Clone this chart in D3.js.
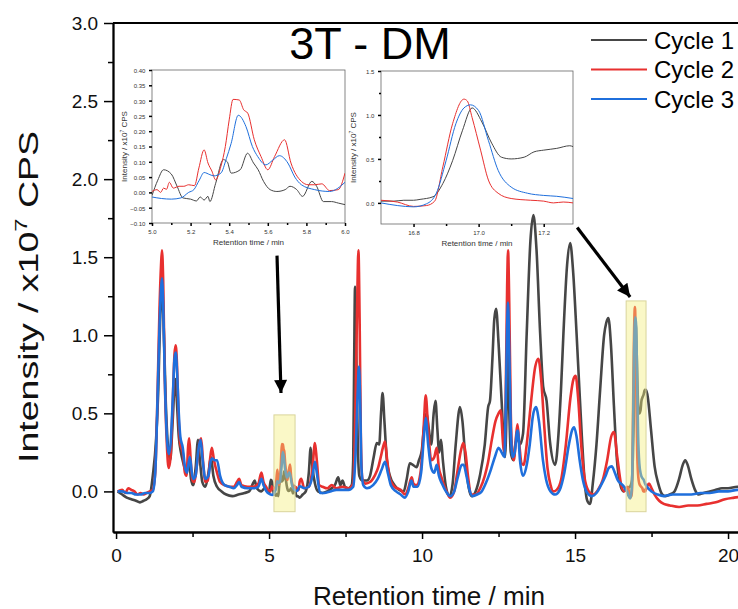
<!DOCTYPE html>
<html>
<head>
<meta charset="utf-8">
<script src="https://cdn.jsdelivr.net/npm/d3@7"></script>
<style>
  body { margin: 0; background: #fff; }
  svg { display: block; font-family: "Liberation Sans", Arial, sans-serif; }
</style>
</head>
<body>
<div id="chart"></div>
<script>
// series names and colours
const seriesNames = ["Cycle 1", "Cycle 2", "Cycle 3"];
const seriesColors = ["#464646", "#e8302f", "#1f6fdc"];

// main chromatogram, [time (min), intensity (x10^7 CPS)]
const cycle1Early = [[0.05,0.0],[0.2,-0.02],[0.35,-0.04],[0.5,-0.05],[0.65,-0.06],[0.78,-0.07],[0.9,-0.06],[1.0,-0.05],[1.1,-0.03],[1.2,0.1],[1.31,0.34],[1.38,0.65],[1.44,1.1],[1.5,1.3],[1.55,1.1],[1.62,0.6],[1.7,0.28],[1.77,0.2],[1.85,0.45],[1.93,0.72],[1.98,0.6],[2.05,0.35],[2.12,0.25],[2.2,0.18],[2.3,0.12],[2.38,0.2],[2.45,0.08],[2.52,0.04],[2.6,0.15],[2.68,0.33],[2.74,0.2],[2.82,0.06],[2.92,0.03],[3.02,0.12],[3.1,0.22],[3.18,0.1],[3.3,0.03],[3.45,0.0],[3.6,-0.02],[3.8,-0.03],[4.0,-0.02],[4.2,-0.01],[4.35,0.0],[4.45,0.04],[4.53,0.07],[4.6,0.02],[4.75,0.0],[4.85,0.02],[4.95,0.0]];
const cycle1Mid = [[6.1,-0.02],[6.2,0.0],[6.3,0.12],[6.36,0.28],[6.42,0.15],[6.5,0.05],[6.6,0.0],[6.75,-0.01],[6.9,0.0],[7.05,0.02],[7.15,0.04],[7.26,0.09],[7.33,0.04],[7.4,0.07],[7.48,0.03],[7.6,0.02],[7.7,0.04],[7.75,0.2],[7.78,0.8],[7.81,1.31],[7.85,0.9],[7.9,0.3],[7.95,0.1],[8.05,0.07],[8.2,0.07],[8.3,0.1],[8.42,0.22],[8.52,0.31],[8.6,0.3],[8.66,0.5],[8.71,0.63],[8.77,0.45],[8.85,0.2],[8.95,0.1],[9.1,0.04],[9.25,0.01],[9.4,0.0],[9.5,0.08],[9.6,0.18],[9.7,0.17],[9.82,0.155],[9.9,0.2],[9.99,0.26],[10.07,0.42],[10.15,0.5],[10.22,0.4],[10.3,0.3],[10.38,0.5],[10.44,0.58],[10.5,0.4],[10.56,0.25],[10.62,0.33],[10.68,0.2],[10.78,0.03],[10.9,-0.03],[11.0,0.05],[11.1,0.3],[11.24,0.54],[11.32,0.45],[11.42,0.2],[11.52,0.03],[11.62,-0.03],[11.75,0.0],[11.9,0.11],[12.05,0.3],[12.16,0.54],[12.22,0.58],[12.3,0.85],[12.36,1.1],[12.42,1.17],[12.5,0.95],[12.6,0.58],[12.71,0.22],[12.76,0.5],[12.8,1.0],[12.84,0.6],[12.9,0.25],[12.98,0.2],[13.05,0.3],[13.12,0.35],[13.2,0.3],[13.3,0.37],[13.42,1.01],[13.54,1.6],[13.64,1.77],[13.74,1.55],[13.86,1.01],[13.96,0.67],[14.07,0.58],[14.18,0.32],[14.35,0.17],[14.46,0.37],[14.54,0.65],[14.62,1.01],[14.74,1.45],[14.84,1.59],[14.94,1.4],[15.05,1.01],[15.22,0.36],[15.32,0.05],[15.4,-0.06],[15.49,-0.08],[15.58,0.05],[15.7,0.3],[15.82,0.65],[15.95,1.0],[16.02,1.08],[16.09,1.11],[16.17,0.95],[16.27,0.55],[16.37,0.2],[16.47,0.05],[16.58,0.0],[16.65,0.01]];
const cycle1Late = [[17.32,0.65],[17.38,0.6],[17.48,0.4],[17.6,0.16],[17.72,0.05],[17.85,-0.02],[17.95,-0.03],[18.1,-0.02],[18.25,0.0],[18.4,0.08],[18.52,0.17],[18.6,0.2],[18.68,0.17],[18.8,0.08],[18.92,0.01],[19.03,-0.02],[19.2,-0.01],[19.4,0.0],[19.6,0.01],[19.8,0.02],[20.0,0.02],[20.3,0.03],[20.6,0.03]];

const cycle2Early = [[0.05,0.0],[0.2,0.01],[0.3,-0.01],[0.4,0.02],[0.5,0.01],[0.6,0.0],[0.7,-0.02],[0.8,-0.01],[0.9,-0.02],[1.0,-0.01],[1.1,0.0],[1.2,0.01],[1.28,0.12],[1.37,0.75],[1.42,1.17],[1.47,1.45],[1.5,1.545],[1.54,1.35],[1.59,0.75],[1.66,0.3],[1.72,0.15],[1.78,0.22],[1.85,0.55],[1.91,0.88],[1.95,0.935],[1.99,0.82],[2.04,0.5],[2.1,0.3],[2.18,0.25],[2.25,0.12],[2.3,0.1],[2.36,0.3],[2.39,0.34],[2.44,0.2],[2.5,0.07],[2.56,0.06],[2.65,0.18],[2.72,0.3],[2.78,0.34],[2.84,0.2],[2.92,0.06],[3.0,0.07],[3.08,0.22],[3.13,0.28],[3.2,0.2],[3.3,0.12],[3.4,0.06],[3.55,0.04],[3.7,0.03],[3.85,0.03],[3.95,0.06],[4.02,0.08],[4.1,0.04],[4.3,0.03],[4.5,0.03],[4.65,0.05],[4.75,0.12],[4.82,0.06],[4.9,0.03]];
const cycle2Mid = [[6.05,0.08],[6.15,0.02],[6.3,0.03],[6.42,0.15],[6.5,0.31],[6.56,0.2],[6.64,0.04],[6.75,0.03],[6.9,0.02],[7.05,0.04],[7.2,0.02],[7.4,0.03],[7.6,0.02],[7.75,0.05],[7.82,0.5],[7.88,1.2],[7.92,1.545],[7.96,1.1],[8.0,0.35],[8.05,0.08],[8.15,0.05],[8.3,0.06],[8.45,0.1],[8.57,0.155],[8.65,0.22],[8.72,0.28],[8.79,0.32],[8.86,0.2],[8.95,0.08],[9.1,0.03],[9.3,0.01],[9.45,-0.02],[9.55,0.02],[9.66,0.09],[9.72,0.05],[9.82,0.04],[9.95,0.12],[10.05,0.4],[10.12,0.615],[10.2,0.4],[10.3,0.2],[10.4,0.22],[10.48,0.28],[10.55,0.15],[10.62,0.1],[10.7,0.05],[10.8,0.0],[10.92,-0.04],[11.05,0.0],[11.15,0.12],[11.28,0.27],[11.35,0.31],[11.42,0.25],[11.5,0.1],[11.62,-0.02],[11.75,-0.02],[11.9,0.02],[12.05,0.1],[12.15,0.18],[12.28,0.33],[12.4,0.45],[12.5,0.5],[12.57,0.52],[12.65,0.3],[12.69,0.25],[12.74,0.7],[12.78,1.3],[12.81,1.545],[12.85,1.2],[12.9,0.5],[12.95,0.25],[13.0,0.2],[13.07,0.35],[13.12,0.43],[13.18,0.3],[13.25,0.18],[13.32,0.17],[13.42,0.3],[13.55,0.55],[13.7,0.8],[13.8,0.85],[13.9,0.7],[14.0,0.4],[14.1,0.15],[14.2,0.04],[14.29,0.0],[14.4,0.01],[14.55,0.08],[14.7,0.3],[14.85,0.6],[14.95,0.72],[15.02,0.74],[15.1,0.6],[15.2,0.3],[15.3,0.1],[15.45,0.0],[15.6,-0.02],[15.75,0.01],[15.9,0.07],[16.05,0.2],[16.18,0.35],[16.27,0.38],[16.38,0.22],[16.5,0.05],[16.6,0.0]];
const cycle2Late = [[17.35,0.03],[17.42,0.05],[17.5,0.02],[17.6,-0.02],[17.75,-0.06],[17.9,-0.08],[18.1,-0.09],[18.4,-0.1],[18.7,-0.09],[19.0,-0.09],[19.3,-0.08],[19.6,-0.07],[19.9,-0.05],[20.2,-0.04],[20.6,-0.03]];

const cycle3Early = [[0.05,0.0],[0.2,0.0],[0.35,-0.01],[0.5,-0.01],[0.65,-0.02],[0.8,-0.02],[0.95,-0.01],[1.1,-0.01],[1.2,0.0],[1.28,0.12],[1.37,0.7],[1.42,1.05],[1.47,1.3],[1.5,1.365],[1.54,1.2],[1.59,0.75],[1.66,0.35],[1.72,0.24],[1.78,0.3],[1.85,0.58],[1.91,0.85],[1.95,0.89],[1.99,0.78],[2.05,0.5],[2.1,0.35],[2.18,0.28],[2.25,0.16],[2.32,0.12],[2.41,0.22],[2.47,0.13],[2.52,0.08],[2.6,0.1],[2.68,0.25],[2.76,0.33],[2.83,0.2],[2.92,0.08],[3.02,0.1],[3.1,0.2],[3.15,0.21],[3.22,0.2],[3.3,0.2],[3.4,0.1],[3.55,0.04],[3.7,0.03],[3.85,0.02],[3.95,0.04],[4.02,0.06],[4.1,0.03],[4.3,0.02],[4.5,0.02],[4.65,0.03],[4.75,0.08],[4.82,0.04],[4.92,0.0]];
const cycle3Mid = [[6.05,0.03],[6.15,0.02],[6.3,0.03],[6.42,0.1],[6.5,0.19],[6.56,0.12],[6.67,-0.01],[6.8,-0.01],[7.0,0.0],[7.2,0.01],[7.4,0.01],[7.6,0.01],[7.75,0.03],[7.83,0.25],[7.89,0.6],[7.94,0.8],[7.98,0.55],[8.02,0.15],[8.08,0.04],[8.2,0.02],[8.4,0.04],[8.55,0.08],[8.68,0.14],[8.79,0.19],[8.88,0.12],[8.98,0.04],[9.15,0.0],[9.3,-0.02],[9.44,-0.04],[9.55,0.0],[9.65,0.07],[9.72,0.03],[9.85,0.03],[9.97,0.12],[10.06,0.35],[10.12,0.47],[10.2,0.3],[10.3,0.15],[10.4,0.12],[10.48,0.17],[10.55,0.1],[10.65,0.05],[10.78,0.0],[10.92,-0.03],[11.05,0.0],[11.18,0.1],[11.3,0.17],[11.36,0.17],[11.45,0.1],[11.55,0.01],[11.65,-0.03],[11.8,-0.02],[11.95,0.0],[12.1,0.06],[12.25,0.14],[12.38,0.22],[12.5,0.28],[12.6,0.25],[12.69,0.22],[12.74,0.6],[12.78,1.05],[12.81,1.21],[12.85,0.9],[12.9,0.4],[12.96,0.22],[13.03,0.25],[13.1,0.38],[13.13,0.39],[13.2,0.2],[13.3,0.1],[13.4,0.15],[13.52,0.3],[13.62,0.48],[13.72,0.54],[13.82,0.45],[13.95,0.2],[14.05,0.08],[14.2,0.0],[14.35,-0.02],[14.5,0.01],[14.65,0.12],[14.8,0.3],[14.9,0.39],[14.97,0.41],[15.05,0.35],[15.15,0.2],[15.25,0.08],[15.4,-0.01],[15.55,-0.03],[15.7,-0.01],[15.85,0.04],[16.0,0.1],[16.1,0.15],[16.2,0.16],[16.3,0.12],[16.4,0.07],[16.5,0.05],[16.6,0.03],[16.65,0.01]];
const cycle3Late = [[17.35,0.03],[17.5,0.0],[17.7,-0.02],[17.9,-0.03],[18.2,-0.02],[18.5,-0.02],[18.8,-0.02],[19.1,-0.01],[19.4,-0.01],[19.7,0.0],[20.0,0.0],[20.3,0.01],[20.6,0.01]];

// inset 1: 5.0 - 6.0 min
const inset1Cycle1 = [[5.0,-0.01],[5.03,0.04],[5.06,0.074],[5.1,0.06],[5.13,0.02],[5.16,-0.018],[5.2,-0.022],[5.23,-0.028],[5.25,-0.015],[5.27,-0.025],[5.29,-0.013],[5.3,-0.03],[5.33,0.03],[5.37,0.107],[5.39,0.1],[5.41,0.063],[5.457,0.074],[5.495,0.128],[5.526,0.096],[5.55,0.074],[5.578,0.036],[5.612,0.009],[5.647,0.003],[5.69,0.009],[5.715,0.02],[5.75,0.009],[5.78,-0.013],[5.828,0.036],[5.853,0.02],[5.888,-0.03],[5.93,-0.03],[5.966,-0.035],[6.0,-0.04]];
const inset1Cycle2 = [[5.0,0.003],[5.026,0.009],[5.045,0.0],[5.06,0.014],[5.075,0.01],[5.09,0.033],[5.11,0.014],[5.14,0.02],[5.165,0.02],[5.19,0.025],[5.22,0.022],[5.243,0.08],[5.27,0.139],[5.29,0.096],[5.31,0.07],[5.33,0.041],[5.357,0.085],[5.38,0.15],[5.4,0.237],[5.42,0.304],[5.452,0.302],[5.475,0.27],[5.496,0.259],[5.53,0.172],[5.565,0.117],[5.6,0.074],[5.635,0.117],[5.687,0.172],[5.72,0.096],[5.774,0.036],[5.81,0.025],[5.843,0.025],[5.88,0.028],[5.92,0.006],[5.965,0.009],[6.0,0.063]];
const inset1Cycle3 = [[5.0,-0.015],[5.05,-0.02],[5.1,-0.022],[5.15,-0.018],[5.19,0.0],[5.217,0.009],[5.245,0.04],[5.27,0.065],[5.3,0.058],[5.32,0.054],[5.357,0.063],[5.385,0.11],[5.41,0.16],[5.447,0.252],[5.487,0.215],[5.52,0.15],[5.548,0.117],[5.59,0.09],[5.625,0.105],[5.66,0.12],[5.704,0.096],[5.74,0.05],[5.774,0.025],[5.843,0.009],[5.92,0.003],[6.0,0.033]];

// inset 2: 16.7 - 17.3 min
const inset2Cycle1 = [[16.7,0.02],[16.74,0.02],[16.77,0.03],[16.8,0.03],[16.82,0.04],[16.86,0.07],[16.89,0.22],[16.92,0.48],[16.95,0.82],[16.98,1.08],[17.01,0.92],[17.04,0.68],[17.07,0.52],[17.1,0.5],[17.14,0.52],[17.17,0.58],[17.2,0.6],[17.24,0.62],[17.28,0.65],[17.29,0.64]];
const inset2Cycle2 = [[16.7,0.03],[16.75,0.01],[16.8,-0.04],[16.84,-0.03],[16.865,0.02],[16.89,0.41],[16.92,0.9],[16.955,1.18],[16.965,1.16],[16.98,0.97],[17.006,0.6],[17.03,0.26],[17.06,0.11],[17.1,0.05],[17.16,0.03],[17.2,0.02],[17.23,0.0],[17.26,0.01],[17.29,0.0]];
const inset2Cycle3 = [[16.7,0.0],[16.75,-0.03],[16.8,-0.045],[16.84,-0.01],[16.87,0.11],[16.9,0.48],[16.93,0.9],[16.955,1.08],[16.975,1.115],[17.0,1.05],[17.03,0.71],[17.06,0.37],[17.1,0.18],[17.15,0.11],[17.2,0.085],[17.24,0.075],[17.29,0.05]];

// tick values
const xMajor = [0, 5, 10, 15, 20];
const xMinor = [2.5, 7.5, 12.5, 17.5];
const yMajor = [0, 0.5, 1.0, 1.5, 2.0, 2.5, 3.0];
const yMinor = [0.25, 0.75, 1.25, 1.75, 2.25, 2.75];
const inset1XTicks = [5.0, 5.2, 5.4, 5.6, 5.8, 6.0];
const inset1XMinor = [5.1, 5.3, 5.5, 5.7, 5.9];
const inset1YTicks = [-0.10, -0.05, 0.00, 0.05, 0.10, 0.15, 0.20, 0.25, 0.30, 0.35, 0.40];
const inset2XTicks = [16.8, 17.0, 17.2];
const inset2XMinor = [16.9, 17.1];
const inset2YTicks = [0.0, 0.5, 1.0, 1.5];
const inset2YMinor = [0.25, 0.75, 1.25];

// highlighted windows [t0, t1, v0, v1] and arrows [t0, v0, t1, v1]
const boxes = [[5.16, 5.85, -0.13, 0.49], [16.67, 17.32, -0.13, 1.22]];
const arrows = [[5.26, 1.51, 5.39, 0.63], [15.07, 1.69, 16.8, 1.245]];

const mainCycles = [
  cycle1Early.concat(inset1Cycle1, cycle1Mid, inset2Cycle1, cycle1Late),
  cycle2Early.concat(inset1Cycle2, cycle2Mid, inset2Cycle2, cycle2Late),
  cycle3Early.concat(inset1Cycle3, cycle3Mid, inset2Cycle3, cycle3Late)
];

var svg = d3.select("#chart").append("svg")
    .attr("width", 738)
    .attr("height", 609);

var x = d3.scaleLinear().domain([-0.1, 20.6]).range([113, 746.4]);
var y = d3.scaleLinear().domain([-0.26, 3.0]).range([532, 23]);

//arrow head marker
svg.append("defs").append("marker")
    .attr("id", "head")
    .attr("viewBox", "0 0 10 10")
    .attr("refX", 10).attr("refY", 5)
    .attr("markerUnits", "userSpaceOnUse")
    .attr("markerWidth", 20).attr("markerHeight", 13)
    .attr("orient", "auto")
  .append("path")
    .attr("d", "M0,0 L10,5 L0,10 Z")
    .attr("fill", "#000");

//draws one inset panel
function drawInset(xs, ys, xTicks, xMinorTicks, yTicks, yMinorTicks, yFormat, series) {
    var g = svg.append("g");
    var x0 = xs.range()[0], x1 = xs.range()[1];
    var y0 = ys.range()[0], y1 = ys.range()[1];
    g.append("rect")
        .attr("x", x0).attr("y", y1)
        .attr("width", x1 - x0).attr("height", y0 - y1)
        .attr("fill", "#fff")
        .attr("stroke", "#666")
        .attr("stroke-width", 0.8);

    var xa = g.append("g").attr("transform", "translate(0," + y0 + ")")
        .call(d3.axisBottom(xs).tickValues(xTicks).tickSize(3).tickSizeOuter(0).tickFormat(d3.format(".1f")));
    g.append("g").attr("transform", "translate(0," + y0 + ")")
        .call(d3.axisBottom(xs).tickValues(xMinorTicks).tickSize(2).tickSizeOuter(0).tickFormat(""));
    var ya = g.append("g").attr("transform", "translate(" + x0 + ",0)")
        .call(d3.axisLeft(ys).tickValues(yTicks).tickSize(3).tickSizeOuter(0).tickFormat(d3.format(yFormat)));
    g.append("g").attr("transform", "translate(" + x0 + ",0)")
        .call(d3.axisLeft(ys).tickValues(yMinorTicks).tickSize(2).tickSizeOuter(0).tickFormat(""));
    g.selectAll(".domain").remove();
    g.selectAll(".tick line").attr("stroke", "#666").attr("stroke-width", 0.7);
    g.selectAll(".tick text").attr("font-size", 6).attr("fill", "#333")
        .attr("font-family", "'Liberation Sans', Arial, sans-serif");
    xa.selectAll(".tick text").attr("dy", "0.9em");
    ya.selectAll(".tick text").attr("dx", "-0.1em").attr("dy", "0.4em");

    var line = d3.line()
        .x(function(d) { return xs(d[0]); })
        .y(function(d) { return ys(d[1]); })
        .curve(d3.curveMonotoneX);
    var clipId = "clip" + Math.round(x0);
    g.append("clipPath").attr("id", clipId).append("rect")
        .attr("x", x0).attr("y", y1).attr("width", x1 - x0).attr("height", y0 - y1);
    series.forEach(function(s, i) {
        g.append("path")
            .datum(s)
            .attr("clip-path", "url(#" + clipId + ")")
            .attr("fill", "none")
            .attr("stroke", seriesColors[i])
            .attr("stroke-width", 1)
            .attr("d", line);
    });

    var cx = (x0 + x1) / 2, cy = (y0 + y1) / 2;
    g.append("text")
        .attr("x", cx).attr("y", y0 + 22)
        .attr("text-anchor", "middle")
        .attr("font-size", 8).attr("fill", "#333")
        .text("Retention time / min");
    var yl = g.append("text")
        .attr("transform", "translate(" + (x0 - 25) + "," + cy + ") rotate(-90)")
        .attr("text-anchor", "middle")
        .attr("font-size", 8).attr("fill", "#333");
    yl.append("tspan").text("Intensity / x10");
    yl.append("tspan").attr("font-size", 5).attr("dy", -3).text("7");
    yl.append("tspan").attr("dy", 3).text(" CPS");
}

drawInset(d3.scaleLinear().domain([5, 6]).range([152, 345]),
          d3.scaleLinear().domain([-0.1, 0.4]).range([223, 70]),
          inset1XTicks, inset1XMinor, inset1YTicks, [], ".2f",
          [inset1Cycle1, inset1Cycle2, inset1Cycle3]);
drawInset(d3.scaleLinear().domain([16.7, 17.29]).range([381, 573]),
          d3.scaleLinear().domain([-0.24, 1.5]).range([224, 71]),
          inset2XTicks, inset2XMinor, inset2YTicks, inset2YMinor, ".1f",
          [inset2Cycle1, inset2Cycle2, inset2Cycle3]);

//main axes
var xAxis = svg.append("g").attr("transform", "translate(0,532)")
    .call(d3.axisBottom(x).tickValues(xMajor).tickSize(7).tickSizeOuter(0).tickFormat(d3.format("d")));
svg.append("g").attr("transform", "translate(0,532)")
    .call(d3.axisBottom(x).tickValues(xMinor).tickSize(5).tickSizeOuter(0).tickFormat(""));
var yAxis = svg.append("g").attr("transform", "translate(113,0)")
    .call(d3.axisLeft(y).tickValues(yMajor).tickSize(9).tickSizeOuter(0).tickFormat(d3.format(".1f")));
svg.append("g").attr("transform", "translate(113,0)")
    .call(d3.axisLeft(y).tickValues(yMinor).tickSize(5).tickSizeOuter(0).tickFormat(""));
svg.selectAll(".domain").attr("stroke", "#000").attr("stroke-width", 1.8);
svg.selectAll(".tick line").attr("stroke", "#000").attr("stroke-width", 1.5);
xAxis.selectAll(".tick text").attr("font-size", 19).attr("fill", "#111").attr("dy", "1.05em")
    .attr("font-family", "'Liberation Sans', Arial, sans-serif");
yAxis.selectAll(".tick text").attr("font-size", 19).attr("fill", "#111").attr("dx", "-0.15em")
    .attr("font-family", "'Liberation Sans', Arial, sans-serif");

//top frame line
svg.append("line")
    .attr("x1", 113).attr("x2", 738)
    .attr("y1", y(3.0)).attr("y2", y(3.0))
    .attr("stroke", "#000").attr("stroke-width", 1.8);

//axis labels
svg.append("text")
    .attr("x", 429).attr("y", 605)
    .attr("text-anchor", "middle")
    .attr("font-size", 25)
    .attr("fill", "#111")
    .attr("textLength", 232).attr("lengthAdjust", "spacingAndGlyphs")
    .text("Retention time / min");

var ylab = svg.append("text")
    .attr("transform", "translate(38,297) rotate(-90)")
    .attr("text-anchor", "middle")
    .attr("font-size", 27)
    .attr("fill", "#111")
    .attr("textLength", 332).attr("lengthAdjust", "spacingAndGlyphs");
ylab.append("tspan").text("Intensity / x10");
ylab.append("tspan").attr("font-size", 17).attr("dy", -11).text("7");
ylab.append("tspan").attr("dy", 11).text(" CPS");

//title
svg.append("text")
    .attr("x", 370).attr("y", 59)
    .attr("text-anchor", "middle")
    .attr("font-size", 45)
    .attr("fill", "#000")
    .text("3T - DM");

//chromatogram lines
var line = d3.line()
    .x(function(d) { return x(d[0]); })
    .y(function(d) { return y(d[1]); })
    .curve(d3.curveMonotoneX);

mainCycles.forEach(function(s, i) {
    svg.append("path")
        .datum(s)
        .attr("fill", "none")
        .attr("stroke", seriesColors[i])
        .attr("stroke-width", 2.6)
        .attr("stroke-linejoin", "round")
        .attr("d", line);
});

//highlight boxes
svg.selectAll(".hl")
    .data(boxes)
    .enter()
    .append("rect")
    .attr("class", "hl")
    .attr("x", function(d) { return x(d[0]); })
    .attr("y", function(d) { return y(d[3]); })
    .attr("width", function(d) { return x(d[1]) - x(d[0]); })
    .attr("height", function(d) { return y(d[2]) - y(d[3]); })
    .attr("fill", "#f3ee7a")
    .attr("fill-opacity", 0.42)
    .attr("stroke", "#d9d49c")
    .attr("stroke-width", 1);

//arrows
svg.selectAll(".arrow")
    .data(arrows)
    .enter()
    .append("line")
    .attr("class", "arrow")
    .attr("x1", function(d) { return x(d[0]); })
    .attr("y1", function(d) { return y(d[1]); })
    .attr("x2", function(d) { return x(d[2]); })
    .attr("y2", function(d) { return y(d[3]); })
    .attr("stroke", "#000")
    .attr("stroke-width", 3.2)
    .attr("marker-end", "url(#head)");

//legend
var legend = svg.append("g");
seriesNames.forEach(function(name, i) {
    var ly = 40 + i * 29.5;
    legend.append("line")
        .attr("x1", 591).attr("x2", 647)
        .attr("y1", ly).attr("y2", ly)
        .attr("stroke", seriesColors[i])
        .attr("stroke-width", 2.2);
    legend.append("text")
        .attr("x", 654).attr("y", ly + 8.5)
        .attr("font-size", 24)
        .attr("fill", "#000")
        .text(name);
});
</script>
</body>
</html>
